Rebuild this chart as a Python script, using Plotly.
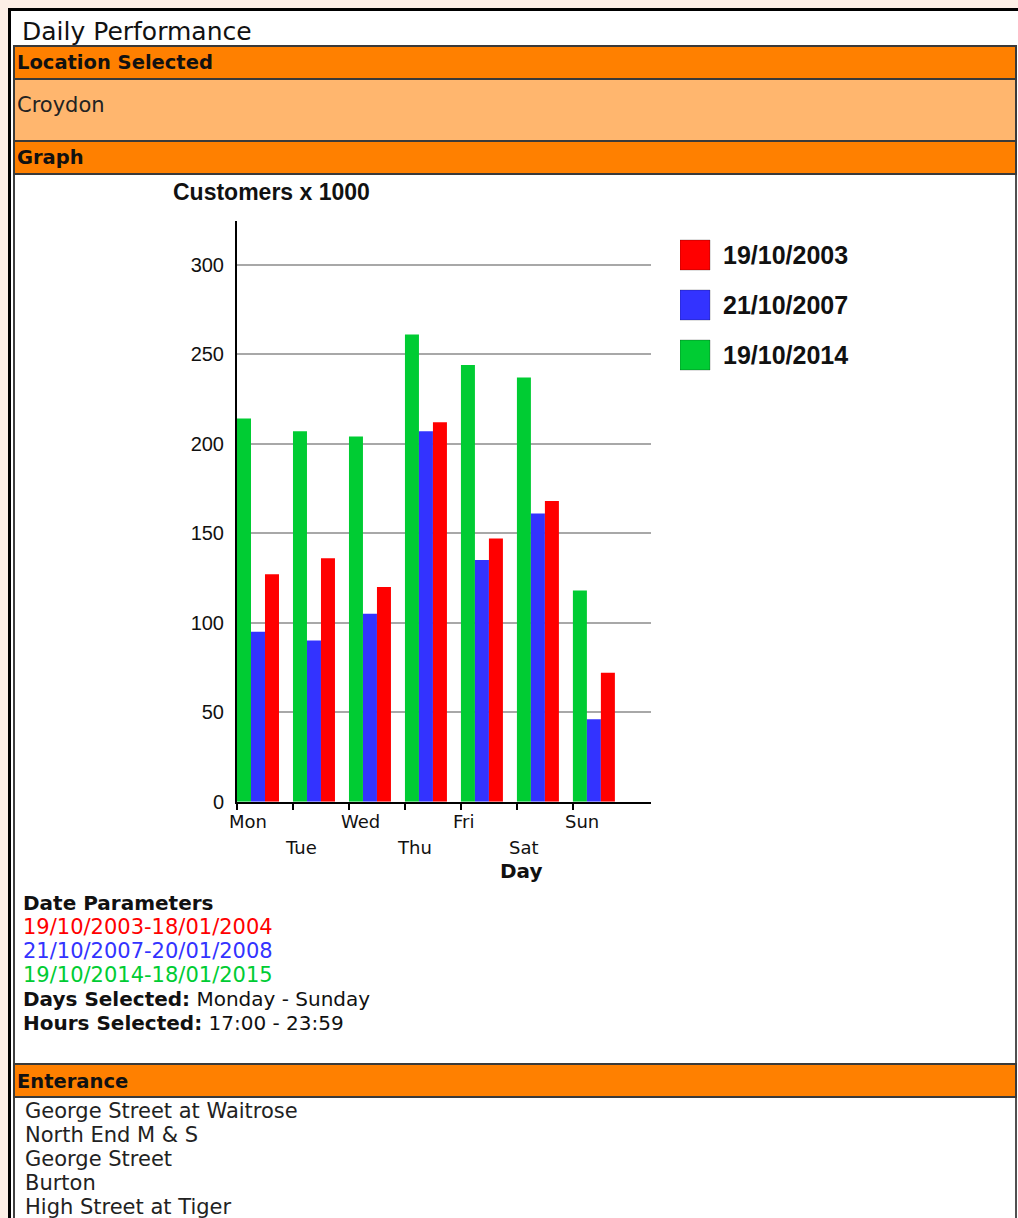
import plotly.graph_objects as go

W, H = 1018, 1218

# ---------------- data ----------------
days = ["Mon", "Tue", "Wed", "Thu", "Fri", "Sat", "Sun"]
v2014 = [214, 207, 204, 261, 244, 237, 118]
v2007 = [95, 90, 105, 207, 135, 161, 46]
v2003 = [127, 136, 120, 212, 147, 168, 72]
series_names = ["19/10/2014", "21/10/2007", "19/10/2003"]   # bar order left -> right
series_values = [v2014, v2007, v2003]
series_colors = ["#00cc33", "#3333ff", "#ff0000"]
legend_order = [2, 1, 0]                                     # red, blue, green
y_ticks = [0, 50, 100, 150, 200, 250, 300]

location = "Croydon"
date_ranges = ["19/10/2003-18/01/2004", "21/10/2007-20/01/2008", "19/10/2014-18/01/2015"]
date_colors = ["#ff0000", "#3333ff", "#00cc33"]
days_selected = "Monday - Sunday"
hours_selected = "17:00 - 23:59"
entrances = ["George Street at Waitrose", "North End M & S", "George Street",
             "Burton", "High Street at Tiger"]

# ---------------- helpers (pixel -> paper) ----------------
def PX(x):
    return x / W

def PY(y):
    return 1 - y / H

SANS = "DejaVu Sans"
ARIAL = "Liberation Sans"

fig = go.Figure()

# bars
for name, vals, col in zip(series_names, series_values, series_colors):
    fig.add_trace(go.Bar(
        x=list(range(len(days))), y=vals, name=name,
        marker=dict(color=col, line=dict(width=0)),
        showlegend=False, xaxis="x", yaxis="y", hoverinfo="x+y+name",
    ))

# custom legend swatches on a hidden axis
fig.add_trace(go.Scatter(
    x=[15] * len(legend_order), y=list(range(len(legend_order))),
    mode="markers",
    marker=dict(symbol="square", size=30,
                color=[series_colors[k] for k in legend_order],
                line=dict(width=1, color="rgba(0,0,0,0.25)")),
    showlegend=False, xaxis="x3", yaxis="y3", hoverinfo="skip",
))

annotations = []

def note(text, x, y, size=20, family=SANS, color="#111111", xanchor="left", **kw):
    d = dict(text=text, x=PX(x - (2 if xanchor == "left" else 0)), y=PY(y),
             xref="paper", yref="paper",
             showarrow=False, xanchor=xanchor, yanchor="middle",
             font=dict(family=family, size=size, color=color))
    d.update(kw)
    annotations.append(d)

# x tick labels (staggered, left aligned a little before each group tick)
bargap = 0.25
half = (1 - bargap) / 2
for i, d in enumerate(days):
    annotations.append(dict(
        text=d, x=i - half + 0.01, xref="x", xshift=-10.5,
        y=PY(821 if i % 2 == 0 else 847), yref="paper",
        showarrow=False, xanchor="left", yanchor="middle",
        font=dict(family=SANS, size=18, color="#111111")))

# legend labels
for j, k in enumerate(legend_order):
    annotations.append(dict(
        text="<b>" + series_names[k] + "</b>", x=41, y=j, xref="x3", yref="y3",
        showarrow=False, xanchor="left", yanchor="middle",
        font=dict(family=ARIAL, size=25, color="#111111")))

# page texts
note("Daily Performance", 22, 31, size=25)
note("<b>Location Selected</b>", 17, 63, size=19.5)
note(location, 17, 105, size=21, color="#222222")
note("<b>Graph</b>", 17, 158, size=19.5)
note("<b>Customers x 1000</b>", 173, 192, size=23, family=ARIAL)
note("<b>Day</b>", 521, 871, size=20, xanchor="center")
note("<b>Date Parameters</b>", 23, 903, size=20)
for k, (t, c) in enumerate(zip(date_ranges, date_colors)):
    note(t, 23, 927 + 24 * k, size=21, color=c)
note("<b>Days Selected:</b> " + days_selected, 23, 999, size=20)
note("<b>Hours Selected:</b> " + hours_selected, 23, 1023, size=20)
note("<b>Enterance</b>", 17, 1081, size=19.5)
for k, t in enumerate(entrances):
    note(t, 25, 1111 + 24 * k, size=21, color="#222222")

# page decoration shapes
shapes = []

def rect(x0, y0, x1, y1, fill, lc="#3a3a3a", lw=0):
    shapes.append(dict(type="rect", xref="paper", yref="paper",
                       x0=PX(x0), x1=PX(x1), y0=PY(y1), y1=PY(y0),
                       fillcolor=fill, line=dict(width=lw, color=lc), layer="below"))

def line(x0, y0, x1, y1, color, width):
    shapes.append(dict(type="line", xref="paper", yref="paper",
                       x0=PX(x0), x1=PX(x1), y0=PY(y0), y1=PY(y1),
                       line=dict(color=color, width=width), layer="below"))

rect(8, 8, 1018, 1218, "#ffffff")
line(8, 9.5, 1018, 9.5, "#000000", 3)
line(9.5, 8, 9.5, 1218, "#000000", 3)
line(14, 46, 14, 1218, "#404040", 2)
line(1016, 46, 1016, 1218, "#505050", 2)
rect(14, 46, 1016, 79, "#ff8000", lw=2)
rect(14, 79, 1016, 141, "#ffb66e", lw=2)
rect(14, 141, 1016, 174, "#ff8000", lw=2)
rect(14, 1064, 1016, 1097, "#ff8000", lw=2)

fig.update_layout(
    width=W, height=H,
    margin=dict(l=0, r=0, t=0, b=0, pad=0, autoexpand=False),
    paper_bgcolor="#fcefe6", plot_bgcolor="rgba(0,0,0,0)",
    barmode="group", bargap=bargap, bargroupgap=0,
    showlegend=False,
    xaxis=dict(domain=[PX(237), PX(651)], range=[-half, 7.02],
               tickvals=[i - half for i in range(len(days))],
               ticktext=[""] * len(days),
               ticks="outside", ticklen=6, tickwidth=2, tickcolor="#000000",
               showline=True, linecolor="#000000", linewidth=2,
               showgrid=False, zeroline=False, fixedrange=True, anchor="y",
               automargin=False),
    yaxis=dict(domain=[PY(801.7), PY(221)], range=[0, 324.4],
               tickvals=y_ticks, ticks="", ticklabelstandoff=7,
               tickfont=dict(family=ARIAL, size=20, color="#111111"),
               showgrid=True, gridcolor="#a8a8a8", gridwidth=1.5,
               showline=True, linecolor="#000000", linewidth=2,
               zeroline=False, fixedrange=True, anchor="x", automargin=False),
    xaxis3=dict(domain=[PX(680), PX(900)], range=[0, 220], visible=False,
                anchor="y3", fixedrange=True),
    yaxis3=dict(domain=[PY(380), PY(230)], range=[2.5, -0.5], visible=False,
                anchor="x3", fixedrange=True),
    annotations=annotations, shapes=shapes,
)

fig.write_html("out.html", config={"displayModeBar": False, "responsive": False},
               post_script="document.body.style.margin='0';document.body.style.overflow='hidden';")
